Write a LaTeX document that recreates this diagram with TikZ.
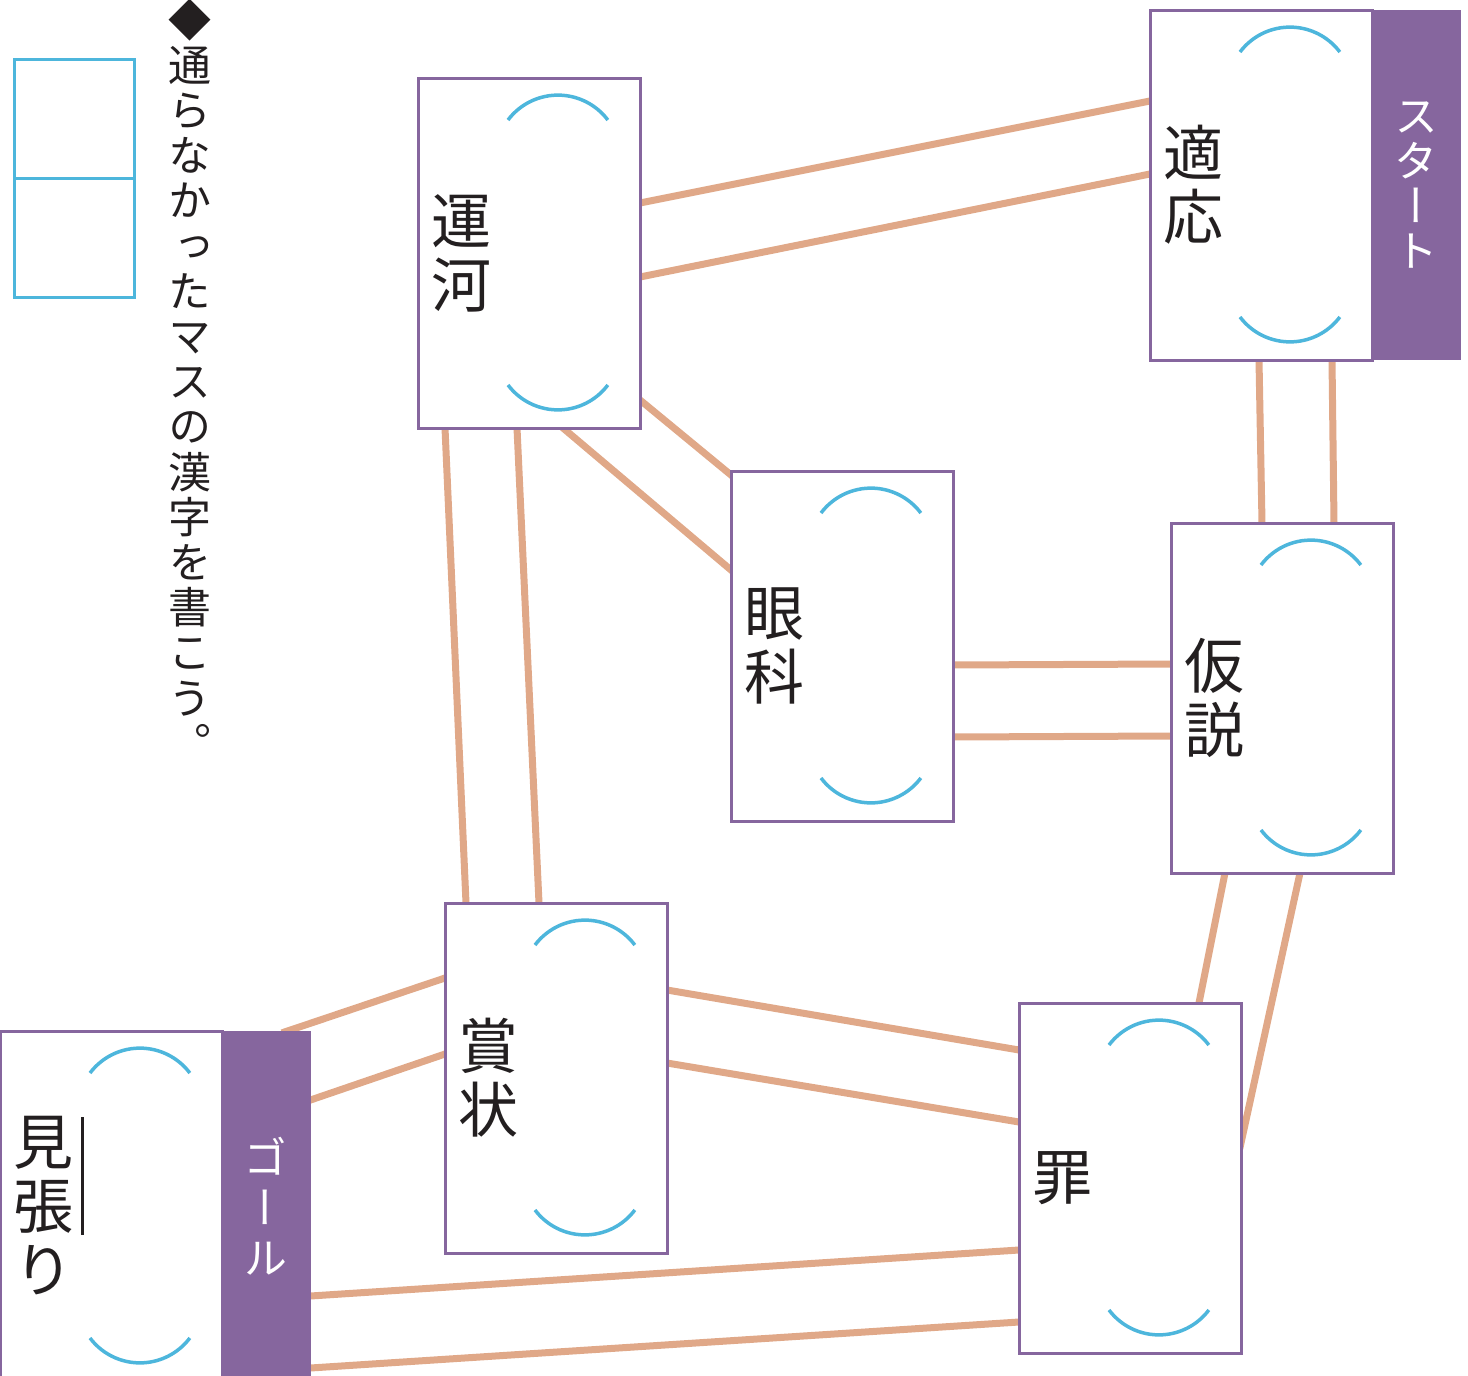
\documentclass[tikz,border=0pt]{standalone}
\usepackage{fontspec}
\newfontfamily\jp[RawFeature=+vert]{Noto Sans CJK JP}
\usetikzlibrary{calc,backgrounds}
\definecolor{waku}{RGB}{134,102,158}
\definecolor{kakkoiro}{RGB}{77,182,220}
\definecolor{michiiro}{RGB}{224,168,136}
\definecolor{sumi}{RGB}{35,31,32}
\tikzset{
  masu/.style={draw=waku, line width=1.5pt, fill=white, minimum width=111pt,
    minimum height=175pt, inner sep=0pt, outer sep=0pt},
  obi/.style={fill=waku, minimum width=45pt, minimum height=175pt, inner sep=0pt,
    outer sep=0pt, text=white, align=center},
  kanji/.style={align=center, inner sep=0pt, text=sumi,
    font=\jp\fontsize{30pt}{32pt}\selectfont},
  kakko/.style={draw=kakkoiro, line width=1.75pt},
  michi/.style={draw=michiiro, line width=3.5pt, shorten <=-3pt, shorten >=-3pt},
  kotae/.style={draw=kakkoiro, line width=1.5pt, minimum width=60pt,
    minimum height=59.5pt, inner sep=0pt, outer sep=0pt},
}
\begin{document}
\begin{tikzpicture}[x=0.5pt,y=-0.5pt]
\useasboundingbox (0,0) rectangle (1468,1376);

% answer boxes and instruction
\node[kotae] (kotae1) at (74,118.5) {};
\node[kotae] (kotae2) at (74,237.5) {};
\node[inner sep=0pt, align=center, text=sumi, font=\jp\fontsize{21.5pt}{22.6pt}\selectfont]
  (shiji) at (190,379) {◆\\通\\ら\\な\\か\\っ\\た\\マ\\ス\\の\\漢\\字\\を\\書\\こ\\う\\。};

% squares
\node[masu] (unga) at (529,253) {};
\node[masu] (tekio) at (1261,185) {};
\node[obi, font=\jp\fontsize{22pt}{22.5pt}\selectfont] (start) at (1416,185) {ス\\タ\\ー\\ト};
\node[masu] (ganka) at (842,646) {};
\node[masu] (kasetsu) at (1282,698) {};
\node[masu] (shojo) at (556,1078) {};
\node[masu] (tsumi) at (1130,1178) {};
\node[masu] (mihari) at (111,1206) {};
\node[obi, font=\jp\fontsize{22pt}{25pt}\selectfont] (goal) at (265.5,1206) {ゴ\\ー\\ル};

% kanji
\node[kanji] (unga-k) at ([xshift=21.75pt]unga.west) {運\\河};
\node[kanji] (tekio-k) at ([xshift=21.75pt]tekio.west) {適\\応};
\node[kanji] (ganka-k) at ([xshift=21.75pt]ganka.west) {眼\\科};
\node[kanji] (kasetsu-k) at ([xshift=21.75pt]kasetsu.west) {仮\\説};
\node[kanji] (shojo-k) at ([xshift=21.75pt]shojo.west) {賞\\状};
\node[kanji] (tsumi-k) at ([xshift=21.75pt]tsumi.west) {罪};
\node[kanji] (mihari-k) at ([xshift=21.75pt]mihari.west) {見\\張\\り};
\draw[sumi, line width=1.5pt] (82,1117) -- (82,1235);

% brackets
\draw[kakko] ([xshift=45pt,yshift=-21pt]unga.north west) arc[start angle=143,end angle=37,radius=31.25pt]
  ([xshift=45pt,yshift=21.5pt]unga.south west) arc[start angle=217,end angle=323,radius=31.25pt];
\draw[kakko] ([xshift=45pt,yshift=-21pt]tekio.north west) arc[start angle=143,end angle=37,radius=31.25pt]
  ([xshift=45pt,yshift=21.5pt]tekio.south west) arc[start angle=217,end angle=323,radius=31.25pt];
\draw[kakko] ([xshift=45pt,yshift=-21pt]ganka.north west) arc[start angle=143,end angle=37,radius=31.25pt]
  ([xshift=45pt,yshift=21.5pt]ganka.south west) arc[start angle=217,end angle=323,radius=31.25pt];
\draw[kakko] ([xshift=45pt,yshift=-21pt]kasetsu.north west) arc[start angle=143,end angle=37,radius=31.25pt]
  ([xshift=45pt,yshift=21.5pt]kasetsu.south west) arc[start angle=217,end angle=323,radius=31.25pt];
\draw[kakko] ([xshift=45pt,yshift=-21pt]shojo.north west) arc[start angle=143,end angle=37,radius=31.25pt]
  ([xshift=45pt,yshift=21.5pt]shojo.south west) arc[start angle=217,end angle=323,radius=31.25pt];
\draw[kakko] ([xshift=45pt,yshift=-21pt]tsumi.north west) arc[start angle=143,end angle=37,radius=31.25pt]
  ([xshift=45pt,yshift=21.5pt]tsumi.south west) arc[start angle=217,end angle=323,radius=31.25pt];
\draw[kakko] ([xshift=45pt,yshift=-21pt]mihari.north west) arc[start angle=143,end angle=37,radius=31.25pt]
  ([xshift=45pt,yshift=21.5pt]mihari.south west) arc[start angle=217,end angle=323,radius=31.25pt];

% roads
\begin{scope}[on background layer]
\draw[michi] ($(unga.north east)+(0,125)$) -- ($(tekio.north west)+(0,91)$);
\draw[michi] ($(unga.north east)+(0,199)$) -- ($(tekio.north west)+(0,164)$);
\draw[michi] ($(unga.north east)+(0,322)$) -- ($(ganka.north west)+(0,4)$);
\draw[michi] ($(unga.south west)+(145,0)$) -- ($(ganka.north west)+(0,99)$);
\draw[michi] ($(unga.south west)+(27,0)$) -- ($(shojo.north west)+(21,0)$);
\draw[michi] ($(unga.south west)+(99,0)$) -- ($(shojo.north west)+(94,0)$);
\draw[michi] ($(tekio.south west)+(109,0)$) -- ($(kasetsu.north west)+(91,0)$);
\draw[michi] ($(tekio.south west)+(182,0)$) -- ($(kasetsu.north west)+(163,0)$);
\draw[michi] ($(ganka.north east)+(0,194)$) -- ($(kasetsu.north west)+(0,141)$);
\draw[michi] ($(ganka.north east)+(0,266)$) -- ($(kasetsu.north west)+(0,213)$);
\draw[michi] ($(kasetsu.south west)+(54,0)$) -- ($(tsumi.north west)+(180,0)$);
\draw[michi] ($(kasetsu.south west)+(129,0)$) -- ($(tsumi.north east)+(0,140)$);
\draw[michi] ($(shojo.north east)+(0,87)$) -- ($(tsumi.north west)+(0,47)$);
\draw[michi] ($(shojo.north east)+(0,160)$) -- ($(tsumi.north west)+(0,119)$);
\draw[michi] ($(shojo.north west)+(0,75)$) -- ($(goal.north west)+(67,0)$);
\draw[michi] ($(shojo.north west)+(0,151)$) -- ($(goal.north east)+(0,69)$);
\draw[michi] ($(goal.north east)+(0,265)$) -- ($(tsumi.north west)+(0,247)$);
\draw[michi] ($(goal.north east)+(0,337)$) -- ($(tsumi.north west)+(0,319)$);
\end{scope}
\end{tikzpicture}
\end{document}
